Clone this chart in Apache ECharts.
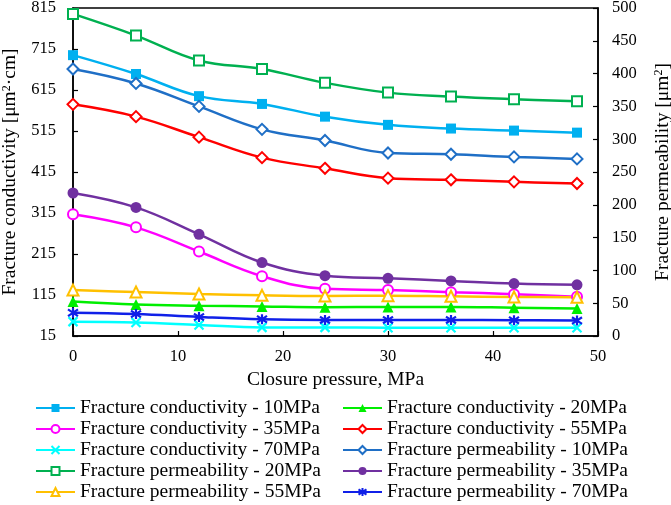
<!DOCTYPE html>
<html><head><meta charset="utf-8">
<script src="https://cdn.jsdelivr.net/npm/echarts@6/dist/echarts.min.js"></script>
<style>html,body{margin:0;padding:0;background:#fff}#c{width:671px;height:505px}</style>
</head><body><div id="c"></div>
<script>
var pressure = [0, 6, 12, 18, 24, 30, 36, 42, 48];
var cond10 = [700, 654, 600, 581, 550, 530, 521, 516, 511];
var cond20 = [99, 92, 89, 87, 85, 86, 86, 84, 82];
var cond35 = [312, 280, 221, 161, 130, 127, 122, 117, 111];
var cond55 = [580, 550, 500, 450, 424, 400, 396, 391, 387];
var cond70 = [50, 48, 42, 36, 36, 35, 35, 35, 35];
var perm10 = [407, 385, 350, 315, 298, 279, 277, 273, 270];
var perm20 = [491, 458, 420, 407, 386, 371, 365, 361, 358];
var perm35 = [218, 196, 155, 112, 92, 88, 84, 80, 78];
var perm55 = [70, 67, 64, 62, 61, 61.5, 60.5, 59.5, 59];
var perm70 = [35.5, 33.5, 29, 25.5, 24.5, 24.5, 24.5, 24, 23.5];
var leftTicks = [15, 815, 100];
var rightTicks = [0, 500, 50];
var xTicks = [0, 50, 10];

var FONT = 'Liberation Serif';
var X_PATH = 'path://M0,0L10,10M0,10L10,0';
var AST_PATH = 'path://M0,1L10,9M0,9L10,1M5,-1L5,11';

function pairs(arr) { return arr.map(function (v, i) { return [pressure[i], v]; }); }
function mk(name, data, axis, color, symbol, size, bw) {
  return {
    name: name, type: 'line', yAxisIndex: axis, data: pairs(data),
    smooth: 0.4, symbol: symbol, symbolSize: size,
    lineStyle: { color: color, width: 2.5 },
    itemStyle: { color: color, borderColor: color, borderWidth: bw },
    emphasis: { disabled: true }
  };
}
var series = [
  mk('Fracture conductivity - 10MPa', cond10, 0, '#00B0F0', 'rect', 10, 0),
  mk('Fracture conductivity - 20MPa', cond20, 0, '#00EE00', 'triangle', 11, 0),
  mk('Fracture conductivity - 35MPa', cond35, 0, '#FF00FF', 'emptyCircle', 10, 1.8),
  mk('Fracture conductivity - 55MPa', cond55, 0, '#FF0000', 'emptyDiamond', 11, 1.8),
  mk('Fracture conductivity - 70MPa', cond70, 0, '#00FFFF', X_PATH, 9, 2.2),
  mk('Fracture permeability - 10MPa', perm10, 1, '#1F6FC6', 'emptyDiamond', 11, 1.5),
  mk('Fracture permeability - 20MPa', perm20, 1, '#00B050', 'emptyRect', 10, 1.8),
  mk('Fracture permeability - 35MPa', perm35, 1, '#7030A0', 'circle', 11, 0),
  mk('Fracture permeability - 55MPa', perm55, 1, '#FFC000', 'emptyTriangle', 11, 1.8),
  mk('Fracture permeability - 70MPa', perm70, 1, '#1020E8', AST_PATH, 10, 2.2)
];
var leftNames = [0, 2, 4, 6, 8].map(function (i) { return series[i].name; });
var rightNames = [1, 3, 5, 7, 9].map(function (i) { return series[i].name; });
var legendText = { fontFamily: FONT, fontSize: 19.5, lineHeight: 21, color: '#000' };
var axisLbl = { fontFamily: FONT, fontSize: 16.5, color: '#000' };
var supRich = {
  a: { fontFamily: FONT, fontSize: 19.5, color: '#000' },
  s: { fontFamily: FONT, fontSize: 12, color: '#000', verticalAlign: 'top', padding: [0, 0, 8, 0] }
};

var chart = echarts.init(document.getElementById('c'), null, { renderer: 'canvas' });
chart.setOption({
  animation: false,
  backgroundColor: '#fff',
  grid: { left: 73, right: 73, top: 8, bottom: 169, outerBoundsMode: 'none', containLabel: false, show: true, borderColor: '#000', borderWidth: 1.5, backgroundColor: 'transparent' },
  legend: [
    { data: leftNames, orient: 'vertical', left: 35, top: 397.5, height: 140, itemWidth: 39, itemHeight: 10, itemGap: 0, textStyle: legendText, selectedMode: false, padding: 0 },
    { data: rightNames, orient: 'vertical', left: 342, top: 397.5, height: 140, itemWidth: 39, itemHeight: 10, itemGap: 0, textStyle: legendText, selectedMode: false, padding: 0 }
  ],
  xAxis: {
    type: 'value', min: xTicks[0], max: xTicks[1], interval: xTicks[2],
    name: 'Closure pressure, MPa', nameLocation: 'middle', nameGap: 34,
    nameTextStyle: { fontFamily: FONT, fontSize: 19.5, color: '#000' },
    axisLine: { lineStyle: { color: '#000', width: 1.5 } },
    axisTick: { inside: true, length: 5, lineStyle: { color: '#000', width: 1.2 } },
    axisLabel: Object.assign({ margin: 12 }, axisLbl),
    splitLine: { show: false }
  },
  yAxis: [
    {
      type: 'value', min: leftTicks[0], max: leftTicks[1], interval: leftTicks[2], position: 'left',
      name: '{a|Fracture conductivity [μm}{s|2}{a|·cm]}', nameLocation: 'middle', nameGap: 52, nameRotate: 90,
      nameTextStyle: { rich: supRich },
      axisLine: { show: true, lineStyle: { color: '#000', width: 1.5 } },
      axisTick: { show: true, inside: true, length: 5, lineStyle: { color: '#000', width: 1.2 } },
      axisLabel: Object.assign({ margin: 17 }, axisLbl),
      splitLine: { show: false }
    },
    {
      type: 'value', min: rightTicks[0], max: rightTicks[1], interval: rightTicks[2], position: 'right',
      name: '{a|Fracture permeability [μm}{s|2}{a|]}', nameLocation: 'middle', nameGap: 55, nameRotate: 90,
      nameTextStyle: { rich: supRich },
      axisLine: { show: true, lineStyle: { color: '#000', width: 1.5 } },
      axisTick: { show: true, inside: true, length: 5, lineStyle: { color: '#000', width: 1.2 } },
      axisLabel: Object.assign({ margin: 14 }, axisLbl),
      splitLine: { show: false }
    }
  ],
  series: series
});
</script></body></html>
